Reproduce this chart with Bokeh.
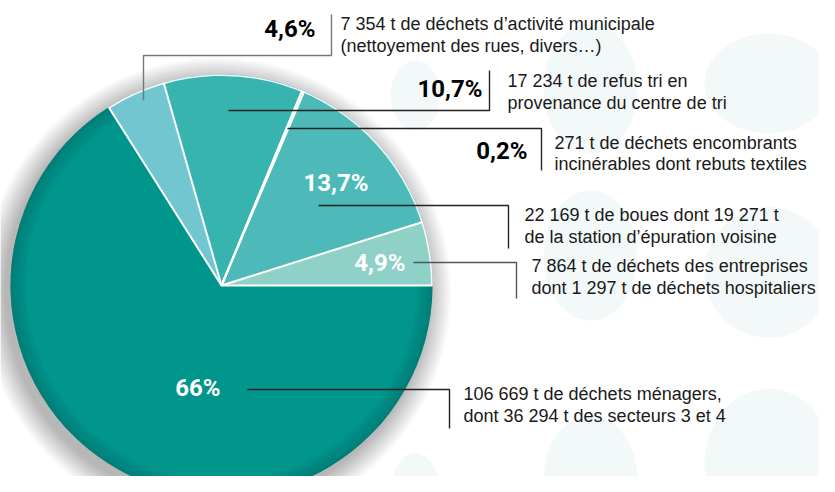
import numpy as np
from bokeh.plotting import figure
from bokeh.models import Range1d
from bokeh.core.properties import value
from bokeh.embed import file_html
from bokeh.resources import INLINE

# ---------------- data ----------------
categories = ["entreprises", "boues", "encombrants", "refus_tri", "municipal", "menagers"]
tonnages = [7864, 22169, 271, 17234, 7354, 106669]
pct_labels = ["4,9%", "13,7%", "0,2%", "10,7%", "4,6%", "66%"]
desc_line1 = [
    "7 864 t de déchets des entreprises",
    "22 169 t de boues dont 19 271 t",
    "271 t de déchets encombrants",
    "17 234 t de refus tri en",
    "7 354 t de déchets d\u2019activité municipale",
    "106 669 t de déchets ménagers,",
]
desc_line2 = [
    "dont 1 297 t de déchets hospitaliers",
    "de la station d\u2019épuration voisine",
    "incinérables dont rebuts textiles",
    "provenance du centre de tri",
    "(nettoyement des rues, divers\u2026)",
    "dont 36 294 t des secteurs 3 et 4",
]

# ---------------- styles / layout ----------------
colors = ["#8fd0c7", "#4dbab9", "#56bebd", "#37b4b0", "#72c6cf", "#00968c"]
pct_colors = ["white", "white", "black", "black", "black", "white"]
# pct label: right x, middle y (page px)
pct_pos = [(405, 262), (368, 182), (527, 150), (482, 88), (315, 28), (220, 387)]
# description: left x, y line1, y line2
desc_pos = [(531, 265, 287), (524, 214, 236), (554, 142, 163),
            (507, 80, 102), (340, 23, 45), (463, 393, 415)]
# leader polylines (page px)
leaders = [
    ([413, 516, 516], [262, 262, 298], "#555555"),
    ([318, 508, 508], [205, 205, 248], "#222222"),
    ([287, 541, 541], [128, 128, 170], "#222222"),
    ([228, 489, 489], [110, 110, 70], "#222222"),
    ([143, 143, 331, 331], [100, 55, 55, 14], "#777777"),
    ([247, 449, 449], [389, 389, 428], "#222222"),
]

W, H = 819, 476
p = figure(width=W, height=H, x_range=Range1d(0, W), y_range=Range1d(-H, 0),
           output_backend="svg", toolbar_location=None, min_border=0,
           x_axis_type=None, y_axis_type=None)
p.grid.visible = False
p.outline_line_color = None
p.background_fill_color = "white"
p.border_fill_color = "white"

# faint decorative background blobs
bx = [415, 590, 768, 590, 768, 415, 590, 768]
by = [95, 88, 83, 255, 272, 490, 480, 463]
bw = [50, 94, 128, 94, 128, 48, 94, 128]
bh = [70, 130, 100, 130, 131, 75, 130, 150]
p.ellipse(x=bx, y=[-v for v in by], width=bw, height=bh,
          fill_color="#f3f9f9", line_color=None)

CX, CY, R = 221, -285, 211

# soft drop shadow
for i in range(24):
    p.circle(x=CX - 5, y=CY - 7, radius=R + 24 - i, fill_color="black",
             fill_alpha=0.011, line_color=None)

# pie
total = float(sum(tonnages))
fr = np.array(tonnages) / total
ends = np.cumsum(fr) * 2 * np.pi
starts = np.concatenate([[0.0], ends[:-1]])
p.wedge(x=CX, y=CY, radius=R, start_angle=starts, end_angle=ends,
        fill_color=colors, line_color=None)

# light outer edge on the smaller slices
p.annular_wedge(x=CX, y=CY, inner_radius=R - 1.5, outer_radius=R,
                start_angle=starts[0], end_angle=ends[-2],
                fill_color="white", fill_alpha=0.9, line_color=None)

# darker rim on main slice
for k in range(10):
    p.annular_wedge(x=CX, y=CY, inner_radius=R - 16 + k * 1.6, outer_radius=R,
                    start_angle=starts[-1], end_angle=ends[-1],
                    fill_color="#005a52", fill_alpha=0.035, line_color=None)

# white separators between slices
bounds = list(starts) + [ends[2]]
p.segment(x0=[CX] * len(bounds), y0=[CY] * len(bounds),
          x1=[CX + R * np.cos(a) for a in bounds], y1=[CY + R * np.sin(a) for a in bounds],
          line_color="white", line_width=2)

# leader lines
for xs, ys, c in leaders:
    p.line(x=xs, y=[-v for v in ys], line_color=c, line_width=1.4)

# percentage labels
for lab, (x, y), c in zip(pct_labels, pct_pos, pct_colors):
    p.text(x=[x], y=[-y], text=[lab], text_color=c, text_align="right",
           text_baseline="middle", text_font=value("Roboto"),
           text_font_style="bold", text_font_size="24px")

# description labels
for l1, l2, (x, y1, y2) in zip(desc_line1, desc_line2, desc_pos):
    p.text(x=[x, x], y=[-y1, -y2], text=[l1, l2], text_color="#1a1a1a",
           text_align="left", text_baseline="middle",
           text_font=value("Liberation Sans"), text_font_size="18px")

open("out.html", "w").write(file_html(p, INLINE))
